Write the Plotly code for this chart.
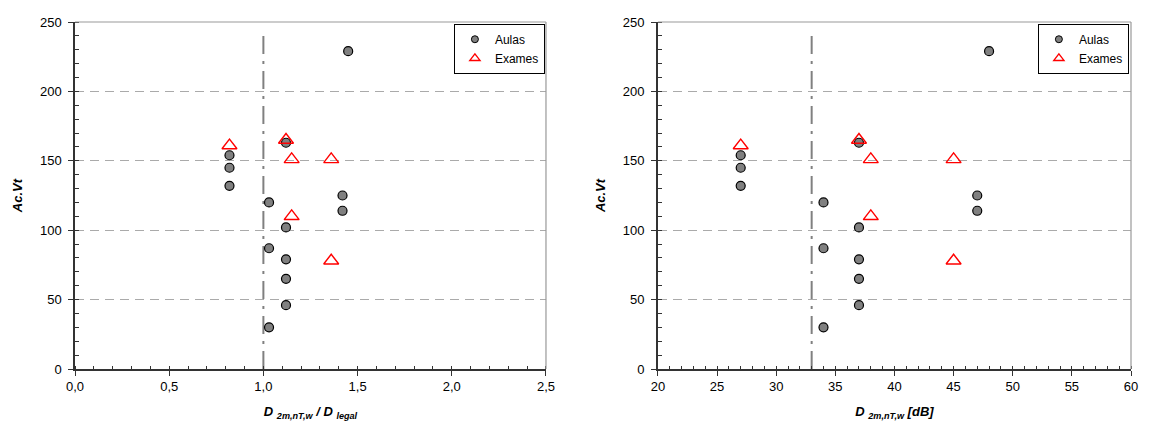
import plotly.graph_objects as go

# Aulas (classrooms)
aulas_db = [27, 27, 27, 34, 34, 34, 37, 37, 37, 37, 37, 47, 47, 48]
aulas_ratio = [0.82, 0.82, 0.82, 1.03, 1.03, 1.03, 1.12, 1.12, 1.12, 1.12, 1.12, 1.42, 1.42, 1.45]
aulas_acvt = [154, 145, 132, 120, 87, 30, 163, 102, 79, 65, 46, 125, 114, 229]

# Exames (exam rooms)
exames_db = [27, 37, 38, 45, 38, 45]
exames_ratio = [0.82, 1.12, 1.15, 1.36, 1.15, 1.36]
exames_acvt = [161, 165, 151, 151, 110, 78]

limit_ratio = 1.0
limit_db = 33
limit_top = 245

FONT = "Arial, Liberation Sans, sans-serif"
circle = dict(symbol="circle", size=9, color="#808080", line=dict(color="black", width=1.2))
triangle = dict(symbol="triangle-up-open", size=13, color="red", line=dict(color="red", width=1.4))
circle_leg = dict(symbol="circle", size=7, color="#808080", line=dict(color="black", width=1))
triangle_leg = dict(symbol="triangle-up-open", size=9, color="red", line=dict(color="red", width=1.3))

fig = go.Figure()
for xs_a, xs_e, ax, lg in [(aulas_ratio, exames_ratio, "", "legend"), (aulas_db, exames_db, "2", "legend2")]:
    fig.add_trace(go.Scatter(x=xs_a, y=aulas_acvt, mode="markers", marker=circle, name="Aulas",
                             xaxis="x" + ax, yaxis="y" + ax, showlegend=False))
    fig.add_trace(go.Scatter(x=xs_e, y=exames_acvt, mode="markers", marker=triangle, name="Exames",
                             xaxis="x" + ax, yaxis="y" + ax, showlegend=False))
    # legend entries with smaller symbols
    fig.add_trace(go.Scatter(x=[None], y=[None], mode="markers", marker=circle_leg, name="Aulas",
                             xaxis="x" + ax, yaxis="y" + ax, legend=lg))
    fig.add_trace(go.Scatter(x=[None], y=[None], mode="markers", marker=triangle_leg, name="Exames",
                             xaxis="x" + ax, yaxis="y" + ax, legend=lg))

# limit lines
for xv, ax in [(limit_ratio, "x"), (limit_db, "x2")]:
    yref = "y" if ax == "x" else "y2"
    fig.add_shape(type="line", xref=ax, yref=yref, x0=xv, x1=xv, y0=0, y1=limit_top,
                  line=dict(color="#808080", width=2, dash="18px,7px,3px,7px"), layer="below")

# gray top/right frame
for ax, yax in [("x", "y"), ("x2", "y2")]:
    fig.add_shape(type="line", xref=ax + " domain", yref=yax + " domain", x0=0, x1=1, y0=1, y1=1,
                  line=dict(color="#999999", width=1.2))
    fig.add_shape(type="line", xref=ax + " domain", yref=yax + " domain", x0=1, x1=1, y0=0, y1=1,
                  line=dict(color="#999999", width=1.2))

xcommon = dict(showgrid=False, zeroline=False, showline=True, linecolor="#333333", linewidth=1.5,
               ticks="outside", ticklen=5, tickcolor="#333333",
               tickfont=dict(family=FONT, size=13, color="black"))
ycommon = dict(range=[0, 250], dtick=50, showgrid=True, gridcolor="#aaaaaa", griddash="9px,6px", gridwidth=1,
               zeroline=False, showline=True, linecolor="#333333", linewidth=1.5,
               ticks="outside", ticklen=5, tickcolor="#333333", ticklabelstandoff=4,
               minor=dict(dtick=10, ticks="inside", ticklen=4, tickcolor="#333333", showgrid=False),
               tickfont=dict(family=FONT, size=13, color="black"),
               title=dict(text="<b><i>Ac.Vt</i></b>", font=dict(family=FONT, size=13, color="black"), standoff=14))

legcommon = dict(bgcolor="white", bordercolor="black", borderwidth=1, xanchor="right", yanchor="top",
                 font=dict(family=FONT, size=12, color="black"), tracegroupgap=0, itemwidth=30)

fig.update_layout(
    width=1149, height=427, autosize=False,
    margin=dict(l=75, r=9, t=22, b=58),
    plot_bgcolor="white", paper_bgcolor="white",
    font=dict(family=FONT, size=12, color="black"),
    xaxis=dict(domain=[0, 0.446], range=[0, 2.5], dtick=0.5, tickformat=".1f",
               minor=dict(dtick=0.1, ticks="inside", ticklen=3, tickcolor="#333333"),
               title=dict(text="<b><i>D <sub>2m,nT,w</sub> / D <sub>legal</sub></i></b>",
                          font=dict(family=FONT, size=13, color="black"), standoff=14),
               anchor="y", **xcommon),
    yaxis=dict(domain=[0, 1], anchor="x", **ycommon),
    xaxis2=dict(domain=[0.552, 1.0], range=[20, 60], dtick=5,
                minor=dict(dtick=1, ticks="inside", ticklen=3, tickcolor="#333333"),
                title=dict(text="<b><i>D <sub>2m,nT,w</sub> [dB]</i></b>",
                           font=dict(family=FONT, size=13, color="black"), standoff=14),
                anchor="y2", **xcommon),
    yaxis2=dict(domain=[0, 1], anchor="x2", **ycommon),
    legend=dict(x=0.445, y=0.995, **legcommon),
    legend2=dict(x=0.998, y=0.995, **legcommon),
    separators=",.",
)

fig.write_html(
    "out.html",
    config={"displayModeBar": False, "responsive": False},
    default_width="1149px",
    default_height="427px",
    post_script="document.body.style.margin='0';document.documentElement.style.overflow='hidden';",
)
